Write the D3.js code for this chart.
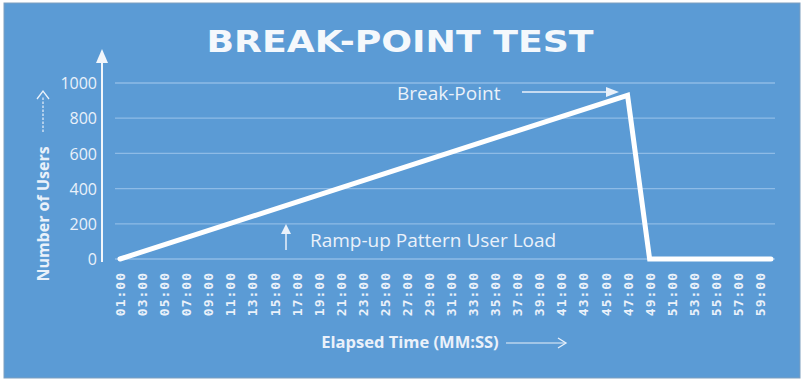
<!DOCTYPE html>
<html><head><meta charset="utf-8">
<script src="https://cdn.jsdelivr.net/npm/d3@7"></script>
<style>html,body{margin:0;padding:0;background:#fff;}svg{display:block;}</style>
</head><body>
<svg id="chart" width="806" height="387"></svg>
<script>
// ---- data ----
const categories = ["01:00","02:00","03:00","04:00","05:00","06:00","07:00","08:00","09:00","10:00",
  "11:00","12:00","13:00","14:00","15:00","16:00","17:00","18:00","19:00","20:00",
  "21:00","22:00","23:00","24:00","25:00","26:00","27:00","28:00","29:00","30:00",
  "31:00","32:00","33:00","34:00","35:00","36:00","37:00","38:00","39:00","40:00",
  "41:00","42:00","43:00","44:00","45:00","46:00","47:00","48:00","49:00","50:00",
  "51:00","52:00","53:00","54:00","55:00","56:00","57:00","58:00","59:00","60:00"];
const xTickLabels = ["01:00","03:00","05:00","07:00","09:00","11:00","13:00","15:00","17:00","19:00",
  "21:00","23:00","25:00","27:00","29:00","31:00","33:00","35:00","37:00","39:00",
  "41:00","43:00","45:00","47:00","49:00","51:00","53:00","55:00","57:00","59:00"];
const pointTimes = ["01:00","47:00","49:00","60:00"];
const pointUsers = [0, 930, 0, 0];
const yTicks = [0, 200, 400, 600, 800, 1000];

// ---- layout ----
const svg = d3.select("#chart");
const bg = "#5b9bd5", txt = "#eaf1fa", grid = "#8ebbe6";

svg.append("rect").attr("x",4).attr("y",3).attr("width",796).attr("height",375)
  .attr("fill",bg).attr("stroke","#7f9fbf").attr("stroke-width",1);

const x = d3.scalePoint().domain(categories).range([120, 771]);
const y = d3.scaleLinear().domain([0, 1000]).range([259, 83]);

// gridlines
svg.append("g").selectAll("line").data(yTicks).join("line")
  .attr("x1",115).attr("x2",775)
  .attr("y1",d=>y(d)).attr("y2",d=>y(d))
  .attr("stroke",grid).attr("stroke-width",1.3);

// y tick labels via axis
const yAxis = svg.append("g").attr("transform","translate(102,0)")
  .call(d3.axisLeft(y).tickValues(yTicks).tickFormat(d3.format("d")).tickSize(0).tickPadding(5));
yAxis.select(".domain").remove();
yAxis.selectAll("text").attr("fill",txt).attr("font-family","Open Sans, sans-serif")
  .attr("font-size",16).attr("dy","0.35em");

// y axis line with arrow
svg.append("line").attr("x1",102).attr("x2",102).attr("y1",60).attr("y2",262)
  .attr("stroke","#f2f6fb").attr("stroke-width",2);
svg.append("path").attr("d","M102,49 L96,63 L108,63 Z").attr("fill","#f2f6fb");

// x tick labels via axis
const xAxis = svg.append("g").attr("transform","translate(0,268)")
  .call(d3.axisBottom(x).tickValues(xTickLabels).tickSize(0).tickPadding(0));
xAxis.select(".domain").remove();
xAxis.selectAll("text")
  .attr("fill",txt).attr("font-family","DejaVu Sans Mono, monospace").attr("font-size",13)
  .attr("font-weight","bold").attr("letter-spacing",1.0)
  .attr("transform","rotate(-90)")
  .attr("text-anchor","end").attr("x",-4).attr("y",0).attr("dy","0.35em");

// data line
const pts = pointTimes.map((t,i)=>[t, pointUsers[i]]);
svg.append("path").datum(pts)
  .attr("d", d3.line().x(d=>x(d[0])).y(d=>y(d[1])))
  .attr("fill","none").attr("stroke","#ffffff").attr("stroke-width",5)
  .attr("stroke-linejoin","miter").attr("stroke-linecap","round");

// title
svg.append("text").attr("x",400).attr("y",52).attr("text-anchor","middle")
  .attr("font-family","DejaVu Sans, sans-serif").attr("font-weight","bold").attr("font-size",31)
  .attr("fill","#f4f8fc").attr("textLength",387).attr("lengthAdjust","spacingAndGlyphs")
  .text("BREAK-POINT TEST");

// y title
svg.append("text").attr("transform","translate(49,214) rotate(-90)").attr("text-anchor","middle")
  .attr("font-family","Open Sans, sans-serif").attr("font-weight","bold").attr("font-size",16)
  .attr("fill",txt).text("Number of Users");
svg.append("line").attr("x1",43).attr("x2",43).attr("y1",132).attr("y2",96)
  .attr("stroke",txt).attr("stroke-width",1.2).attr("stroke-dasharray","2.5,1.5");
svg.append("path").attr("d","M37,99 L43,91 L49,99").attr("fill","none").attr("stroke",txt).attr("stroke-width",1.3);

// x title
svg.append("text").attr("x",410).attr("y",348).attr("text-anchor","middle")
  .attr("font-family","Open Sans, sans-serif").attr("font-weight","bold").attr("font-size",16.5)
  .attr("fill",txt).text("Elapsed Time (MM:SS)");
svg.append("line").attr("x1",506).attr("x2",565).attr("y1",343).attr("y2",343)
  .attr("stroke",txt).attr("stroke-width",1.2);
svg.append("path").attr("d","M558,338 L566,343 L558,348").attr("fill","none").attr("stroke",txt).attr("stroke-width",1.3);

// annotations
svg.append("text").attr("x",397).attr("y",100)
  .attr("font-family","Open Sans, sans-serif").attr("font-size",19).attr("fill",txt).text("Break-Point");
svg.append("line").attr("x1",522).attr("x2",608).attr("y1",92).attr("y2",92)
  .attr("stroke",txt).attr("stroke-width",1.5);
svg.append("path").attr("d","M606,87 L619,92 L606,97 Z").attr("fill",txt);

svg.append("text").attr("x",310).attr("y",247)
  .attr("font-family","Open Sans, sans-serif").attr("font-size",19).attr("fill",txt)
  .text("Ramp-up Pattern User Load");
svg.append("line").attr("x1",286).attr("x2",286).attr("y1",232).attr("y2",250)
  .attr("stroke",txt).attr("stroke-width",1.5);
svg.append("path").attr("d","M281,234 L286,224 L291,234 Z").attr("fill",txt);
</script>
</body></html>
